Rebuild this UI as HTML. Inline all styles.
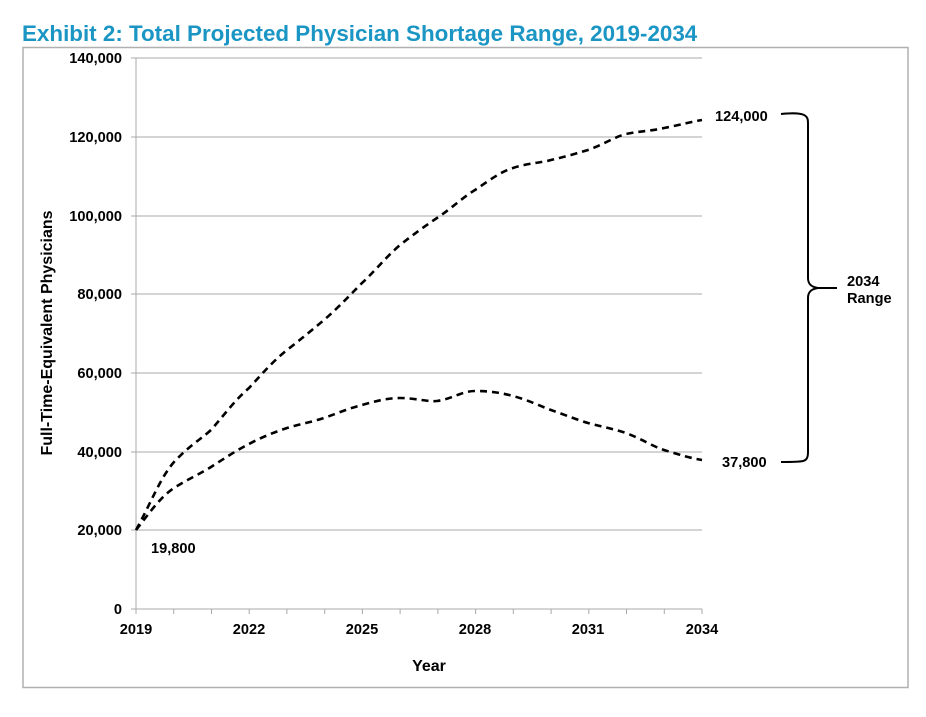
<!DOCTYPE html>
<html><head><style>
body{margin:0;background:#fff;}
svg text{font-family:"Liberation Sans",Arial,sans-serif;font-weight:bold;}
</style></head><body>
<svg width="926" height="712" viewBox="0 0 926 712" xmlns="http://www.w3.org/2000/svg">
<text x="22" y="41" font-size="22.4" fill="#1b96c4">Exhibit 2: Total Projected Physician Shortage Range, 2019-2034</text>
<rect x="23" y="47.5" width="885" height="640" fill="none" stroke="#b0b0b0" stroke-width="1.5"/>
<g stroke="#a8a8a8" stroke-width="1">
<line x1="131" y1="58" x2="702" y2="58"/>
<line x1="131" y1="137" x2="702" y2="137"/>
<line x1="131" y1="216" x2="702" y2="216"/>
<line x1="131" y1="294" x2="702" y2="294"/>
<line x1="131" y1="373" x2="702" y2="373"/>
<line x1="131" y1="452" x2="702" y2="452"/>
<line x1="131" y1="530" x2="702" y2="530"/>
<line x1="131" y1="609" x2="702" y2="609"/>
<line x1="136" y1="58" x2="136" y2="614"/>
</g>
<g stroke="#a8a8a8" stroke-width="1">
<line x1="173.7" y1="609" x2="173.7" y2="614"/><line x1="211.5" y1="609" x2="211.5" y2="614"/><line x1="249.2" y1="609" x2="249.2" y2="614"/><line x1="286.9" y1="609" x2="286.9" y2="614"/><line x1="324.7" y1="609" x2="324.7" y2="614"/><line x1="362.4" y1="609" x2="362.4" y2="614"/><line x1="400.1" y1="609" x2="400.1" y2="614"/><line x1="437.9" y1="609" x2="437.9" y2="614"/><line x1="475.6" y1="609" x2="475.6" y2="614"/><line x1="513.3" y1="609" x2="513.3" y2="614"/><line x1="551.1" y1="609" x2="551.1" y2="614"/><line x1="588.8" y1="609" x2="588.8" y2="614"/><line x1="626.5" y1="609" x2="626.5" y2="614"/><line x1="664.3" y1="609" x2="664.3" y2="614"/><line x1="702" y1="609" x2="702" y2="614"/>
</g>
<g font-size="14.6" fill="#000" text-anchor="end">
<text x="122" y="63">140,000</text>
<text x="122" y="142">120,000</text>
<text x="122" y="221">100,000</text>
<text x="122" y="299">80,000</text>
<text x="122" y="378">60,000</text>
<text x="122" y="457">40,000</text>
<text x="122" y="535">20,000</text>
<text x="122" y="614">0</text>
</g>
<g font-size="14.6" fill="#000" text-anchor="middle">
<text x="136" y="634">2019</text>
<text x="249" y="634">2022</text>
<text x="362" y="634">2025</text>
<text x="475" y="634">2028</text>
<text x="588" y="634">2031</text>
<text x="702" y="634">2034</text>
<text x="429" y="671" font-size="16">Year</text>
<text transform="translate(52,333) rotate(-90)" font-size="16">Full-Time-Equivalent Physicians</text>
</g>
<g fill="none" stroke="#000" stroke-width="2.6" stroke-dasharray="7,5">
<path d="M136,530 C150,505 160,478 174,462 C190,445 200,440 211,430 C225,414 235,400 249,388 C262,374 272,362 287,350 C300,340 312,330 324,320 C340,306 350,295 362,283 C376,270 386,257 400,245 C414,234 425,226 437,218 C452,208 462,198 475,190 C490,180 500,172 513,168 C528,163 540,163 551,160 C568,156 578,153 588,150 C605,144 614,137 626,134 C640,131 652,131 664,128 C680,125 690,122 702,120"/>
<path d="M136,530 C148,515 160,497 174,488 C188,479 200,474 211,467 C225,458 237,450 249,444 C262,437 275,432 287,428 C300,424 312,422 324,418 C338,413 350,408 362,405 C376,401 388,398 400,398 C415,398 428,402 437,401 C452,399 462,391 475,391 C490,391 502,393 513,396 C528,400 540,406 551,410 C565,415 578,420 588,423 C603,427 614,429 626,433 C642,439 652,446 664,450 C680,455 690,458 702,460"/>
</g>
<g font-size="14.6" fill="#000">
<text x="151" y="553">19,800</text>
<text x="715" y="121">124,000</text>
<text x="722" y="467">37,800</text>
<text x="847" y="286">2034</text>
<text x="847" y="303">Range</text>
</g>
<path d="M781,114 C790,113 800,113 804,115 C808,117 808,120 808,124 L808,278 C808,284 811,287 818,288 L837,288 M818,288 C811,289 808,292 808,298 L808,452 C808,457 807,460 803,461 C799,462 790,462 781,462" fill="none" stroke="#000" stroke-width="2"/>
</svg>
</body></html>
